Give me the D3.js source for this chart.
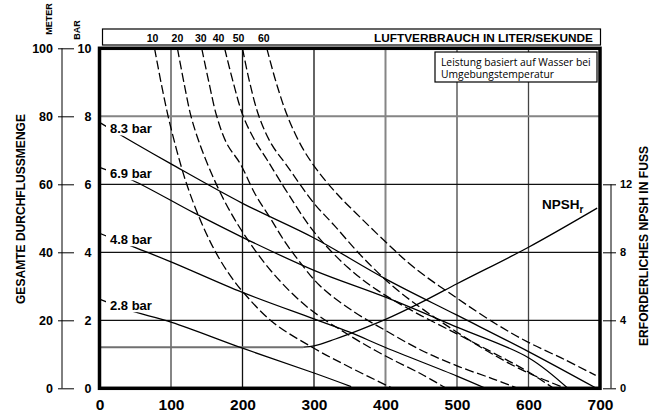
<!DOCTYPE html>
<html>
<head>
<meta charset="utf-8">
<script src="https://cdn.jsdelivr.net/npm/d3@7"></script>
<style>
  body { margin: 0; background: #fff; }
  svg { font-family: "Liberation Sans", Arial, sans-serif; }
  .tick text { font-weight: bold; fill: #000; }
</style>
</head>
<body>
<svg width="662" height="417"></svg>
<script>
// axis ticks
var flowTicks = [0, 100, 200, 300, 400, 500, 600, 700];
var barTicks = [0, 2, 4, 6, 8, 10];
var meterTicks = [0, 20, 40, 60, 80, 100];
var npshTicks = [0, 4, 8, 12];

// air consumption curves (flow, bar), labelled in l/s
var airLabels = ["10", "20", "30", "40", "50", "60"];
var air10 = [[77, 10], [86, 9], [96, 8], [108, 7], [122, 6], [140, 5], [160, 4.1], [180, 3.4], [200, 2.85], [242, 1.95], [298, 1.2], [350, 0.62], [410, 0]];
var air20 = [[109, 10], [118, 9], [128, 8], [140, 7.2], [155, 6.4], [175, 5.5], [200, 4.6], [240, 3.45], [290, 2.4], [350, 1.55], [400, 0.95], [450, 0.42], [485, 0]];
var air30 = [[143, 10], [153, 9], [164, 8], [178, 7.2], [197, 6.6], [218, 5.7], [239, 5.0], [258, 4.35], [277, 3.8], [309, 3.0], [356, 2.25], [400, 1.7], [450, 1.12], [500, 0.66], [550, 0.28], [585, 0]];
var air40 = [[175, 10], [187, 9], [201, 8], [217, 7.3], [235, 6.7], [263, 5.75], [300, 4.6], [347, 3.56], [389, 2.88], [440, 2.25], [500, 1.6], [550, 1.05], [600, 0.48], [635, 0]];
var air50 = [[200, 10], [210, 9], [223, 8], [240, 7.2], [262, 6.55], [300, 5.44], [328, 4.8], [366, 3.9], [412, 2.97], [454, 2.3], [500, 1.65], [550, 1.0], [600, 0.45], [652, 0]];
var air60 = [[234, 10], [247, 9], [263, 8], [283, 7.1], [305, 6.4], [333, 5.7], [366, 5.0], [403, 4.25], [440, 3.55], [500, 2.65], [554, 1.9], [600, 1.35], [650, 0.85], [694, 0.38]];

// air inlet pressure curves (flow, bar)
var pressureLabels = ["8.3 bar", "6.9 bar", "4.8 bar", "2.8 bar"];
var p83 = [[0, 7.82], [50, 7.2], [100, 6.6], [200, 5.44], [300, 4.42], [400, 3.22], [500, 2.15], [600, 1.08], [695, 0]];
var p69 = [[0, 6.5], [46, 6.12], [133, 5.15], [200, 4.44], [300, 3.47], [400, 2.68], [500, 1.8], [600, 0.9], [655, 0]];
var p48 = [[0, 4.56], [45, 4.18], [100, 3.72], [200, 2.82], [300, 2.04], [350, 1.65], [400, 1.2], [500, 0.36], [540, 0]];
var p28 = [[0, 2.62], [42, 2.29], [101, 1.94], [200, 1.18], [300, 0.45], [352, 0.05]];

// required NPSH in feet
var npsh = [[0, 2.42], [285, 2.42], [300, 2.5], [330, 2.9], [365, 3.45], [400, 4.05], [450, 5.05], [500, 6.15], [600, 8.3], [696, 10.6]];

var svg = d3.select("svg");

var x = d3.scaleLinear().domain([0, 700]).range([99.5, 600]);
var y = d3.scaleLinear().domain([0, 10]).range([388.3, 48.3]);
var yMeter = d3.scaleLinear().domain([0, 100]).range([388.3, 48.3]);
var yFt = d3.scaleLinear().domain([0, 20]).range([388.3, 48.3]);

svg.append("clipPath").attr("id", "plot")
  .append("rect").attr("x", x(0)).attr("y", y(10)).attr("width", x(700) - x(0)).attr("height", y(0) - y(10));

// grid
var grid = svg.append("g");
grid.selectAll(".vg")
  .data(flowTicks.slice(1, -1))
  .enter().append("line")
    .attr("x1", function(d) { return x(d); })
    .attr("x2", function(d) { return x(d); })
    .attr("y1", y(10)).attr("y2", y(0))
    .attr("stroke", function(d) { return (d == 100 || d == 400) ? "#858585" : (d >= 500 ? "#444" : "#111"); })
    .attr("stroke-width", function(d) { return (d == 100 || d == 400) ? 2 : 1.3; });

grid.selectAll(".hg")
  .data(barTicks.slice(1, -1))
  .enter().append("line")
    .attr("x1", x(0)).attr("x2", x(700))
    .attr("y1", function(d) { return y(d); })
    .attr("y2", function(d) { return y(d); })
    .attr("stroke", function(d) { return d == 8 ? "#858585" : "#111"; })
    .attr("stroke-width", function(d) { return d == 8 ? 2 : 1.3; });

var curves = svg.append("g").attr("clip-path", "url(#plot)");

var line = d3.line()
  .x(function(d) { return x(d[0]); })
  .y(function(d) { return y(d[1]); })
  .curve(d3.curveCatmullRom.alpha(0.5));

var lineFt = d3.line()
  .x(function(d) { return x(d[0]); })
  .y(function(d) { return yFt(d[1]); })
  .curve(d3.curveMonotoneX);

var airCurves = [air10, air20, air30, air40, air50, air60];
curves.selectAll(".air")
  .data(airCurves)
  .enter().append("path")
    .attr("d", line)
    .attr("fill", "none")
    .attr("stroke", "#000")
    .attr("stroke-width", 1.3)
    .attr("stroke-dasharray", "9,3.5");

// NPSH: grey flat start, black rise
curves.append("path")
  .attr("d", lineFt(npsh.slice(0, 2)))
  .attr("fill", "none").attr("stroke", "#707070").attr("stroke-width", 2);
curves.append("path")
  .attr("d", lineFt(npsh.slice(1)))
  .attr("fill", "none").attr("stroke", "#000").attr("stroke-width", 1.3);

var pressureCurves = [p83, p69, p48, p28];
curves.selectAll(".pr")
  .data(pressureCurves)
  .enter().append("path")
    .attr("d", line)
    .attr("fill", "none")
    .attr("stroke", "#000")
    .attr("stroke-width", 1.3);

// pressure labels with a white knock-out behind them
var plab = svg.append("g").selectAll("g")
  .data(pressureCurves)
  .enter().append("g")
    .attr("transform", function(d) { return "translate(110," + (y(d[0][1]) + 10.5) + ")"; });
plab.append("rect")
  .attr("x", -4).attr("y", -11).attr("width", 48).attr("height", 13.5)
  .attr("fill", "#fff");
plab.append("text")
  .attr("font-size", 13).attr("font-weight", "bold")
  .text(function(d, i) { return pressureLabels[i]; });

// plot frame
svg.append("rect")
  .attr("x", x(0)).attr("y", y(10))
  .attr("width", x(700) - x(0)).attr("height", y(0) - y(10))
  .attr("fill", "none").attr("stroke", "#000").attr("stroke-width", 3.5);

// bottom axis
svg.append("g")
  .attr("transform", "translate(0," + y(0) + ")")
  .call(d3.axisBottom(x).tickValues(flowTicks).tickSize(0).tickPadding(11))
  .call(function(g) { g.select(".domain").remove(); })
  .selectAll("text").attr("font-size", 15.5).attr("font-family", "Liberation Sans, Arial, sans-serif");

// bar axis
svg.append("g")
  .attr("transform", "translate(" + x(0) + ",0)")
  .call(d3.axisLeft(y).tickValues(barTicks).tickSize(0).tickPadding(8))
  .call(function(g) { g.select(".domain").remove(); })
  .selectAll("text").attr("font-size", 12.5).attr("font-family", "Liberation Sans, Arial, sans-serif");

// meter axis
svg.append("line")
  .attr("x1", 62).attr("x2", 62).attr("y1", yMeter(100)).attr("y2", yMeter(0))
  .attr("stroke", "#000").attr("stroke-width", 1);
svg.append("g")
  .attr("transform", "translate(74,0)")
  .call(d3.axisLeft(yMeter).tickValues(meterTicks).tickSize(16).tickPadding(5))
  .call(function(g) { g.select(".domain").remove(); })
  .call(function(g) { g.selectAll("line").attr("stroke-width", 1); })
  .selectAll("text").attr("font-size", 12.5).attr("font-family", "Liberation Sans, Arial, sans-serif");

// NPSH axis on the right
svg.append("line")
  .attr("x1", 611).attr("x2", 611).attr("y1", yFt(12)).attr("y2", yFt(0))
  .attr("stroke", "#000").attr("stroke-width", 1);
svg.append("g")
  .attr("transform", "translate(603,0)")
  .call(d3.axisRight(yFt).tickValues(npshTicks).tickSize(13).tickPadding(4))
  .call(function(g) { g.select(".domain").remove(); })
  .selectAll("text").attr("font-size", 11).attr("font-family", "Liberation Sans, Arial, sans-serif");

// axis titles
function vtitle(tx, ty, txt, size, len) {
  var t = svg.append("text")
    .attr("transform", "translate(" + tx + "," + ty + ") rotate(-90)")
    .attr("text-anchor", "middle")
    .attr("font-size", size).attr("font-weight", "bold")
    .text(txt);
  if (len) t.attr("textLength", len).attr("lengthAdjust", "spacingAndGlyphs");
}
vtitle(25, 209, "GESAMTE DURCHFLUSSMENGE", 13.5, 190);
vtitle(648, 246, "ERFORDERLICHES NPSH IN FUSS", 13.5, 200);
vtitle(52, 19, "METER", 9);
vtitle(80, 30, "BAR", 9);

// air consumption header
svg.append("rect")
  .attr("x", 102.5).attr("y", 29).attr("width", 498).attr("height", 16)
  .attr("fill", "none").attr("stroke", "#000").attr("stroke-width", 1.2);
svg.append("text")
  .attr("x", 593).attr("y", 41.5)
  .attr("text-anchor", "end")
  .attr("font-size", 11.8).attr("font-weight", "bold")
  .text("LUFTVERBRAUCH IN LITER/SEKUNDE");
svg.selectAll(".al")
  .data(airCurves)
  .enter().append("text")
    .attr("x", function(d, i) { return x(d[0][0]) - [2, 0, 1, 6, 4, 3][i]; })
    .attr("y", 42)
    .attr("text-anchor", "middle")
    .attr("font-size", 10.5).attr("font-weight", "bold")
    .text(function(d, i) { return airLabels[i]; });

// note box
svg.append("rect")
  .attr("x", 435).attr("y", 52).attr("width", 162).attr("height", 30)
  .attr("fill", "#fff").attr("stroke", "#000").attr("stroke-width", 1.2);
var note = svg.append("text")
  .attr("font-family", "Open Sans, sans-serif")
  .attr("font-size", 10.3);
note.append("tspan").attr("x", 441).attr("y", 65.5).text("Leistung basiert auf Wasser bei");
note.append("tspan").attr("x", 441).attr("y", 78).text("Umgebungstemperatur");

// NPSHr label
var nl = svg.append("text")
  .attr("x", 542).attr("y", 209)
  .attr("font-size", 13.5).attr("font-weight", "bold");
nl.append("tspan").text("NPSH");
nl.append("tspan").attr("font-size", 10).attr("dy", 4).text("r");
</script>
</body>
</html>
